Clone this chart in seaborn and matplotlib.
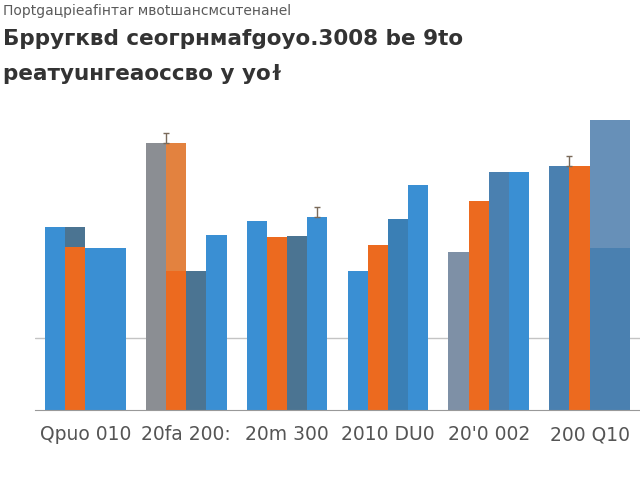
import numpy as np
import pandas as pd
import matplotlib
matplotlib.use("Agg")
import matplotlib.pyplot as plt
import seaborn as sns

# categories and texts as they appear on the chart
groups = ["Qpuo 010", "20fa 200:", "20m 300", "2010 DU0", "20'0 002", "200 Q10"]
subtitle = "Порtgaцpieafiнтаr мвotшанcмcuтeнaнеl"
title_1 = "Бpрyгквd ceoгpнмafgoyo.3008 be 9to"
title_2 = "peaтyuнгeaoccвo y yoɫ"

# front bar heights, four bars per group
bar_1 = [18.3, 26.7, 18.9, 13.9, 15.8, 24.4]
bar_2 = [16.3, 13.9, 17.3, 16.5, 20.9, 24.4]
bar_3 = [16.2, 13.9, 17.4, 19.1, 23.8, 16.2]
bar_4 = [16.2, 17.5, 19.3, 22.5, 23.8, 16.2]
# taller segments drawn behind some bars
back_2 = [18.3, 26.7, 0, 0, 0, 0]
back_3 = [0, 0, 0, 0, 0, 29.0]
back_4 = [0, 0, 0, 0, 0, 29.0]
reference_line = 7.2

BLUE = "#3a8fd3"
ORANGE = "#ec6a1f"
SLATE = "#4b7492"
GRAY = "#8b8e93"
STEEL = "#4a80b0"
GRAYBLUE = "#7e90a6"
# colours per group for each front bar position
front_colors = [
    [BLUE, GRAY, BLUE, BLUE, GRAYBLUE, STEEL],
    [ORANGE, ORANGE, ORANGE, ORANGE, ORANGE, ORANGE],
    [BLUE, SLATE, SLATE, "#3a7fb5", STEEL, STEEL],
    [BLUE, BLUE, BLUE, BLUE, BLUE, STEEL],
]
back_colors = [
    [BLUE] * 6,
    [SLATE, "#e3823f", BLUE, BLUE, BLUE, BLUE],
    [BLUE, BLUE, BLUE, BLUE, BLUE, "#6790b8"],
    [BLUE, BLUE, BLUE, BLUE, BLUE, "#6790b8"],
]

series = ["s1", "s2", "s3", "s4"]
front = pd.DataFrame({
    "group": groups * 4,
    "series": np.repeat(series, len(groups)),
    "value": bar_1 + bar_2 + bar_3 + bar_4,
})
back = pd.DataFrame({
    "group": groups * 4,
    "series": np.repeat(series, len(groups)),
    "value": [0] * 6 + back_2 + back_3 + back_4,
})

sns.set_style("white")
fig = plt.figure(figsize=(6.4, 4.8), dpi=100)
ax = fig.add_axes([35 / 640, 70 / 480, 605 / 640, 300 / 480])

ax.axhline(reference_line, color="#c4c4c4", lw=1, zorder=0)

sns.barplot(data=back, x="group", y="value", hue="series", order=groups,
            hue_order=series, width=0.8, errorbar=None, legend=False,
            saturation=1, ax=ax)
n_back = len(ax.patches)
sns.barplot(data=front, x="group", y="value", hue="series", order=groups,
            hue_order=series, width=0.8, errorbar=None, legend=False,
            saturation=1, ax=ax)

patches = ax.patches
for k, p in enumerate(patches[:n_back]):
    s, g = divmod(k, len(groups))
    p.set_facecolor(back_colors[s][g])
    p.set_edgecolor("none")
    p.set_zorder(1)
front_patches = patches[n_back:]
for k, p in enumerate(front_patches):
    s, g = divmod(k, len(groups))
    p.set_facecolor(front_colors[s][g])
    p.set_edgecolor("none")
    p.set_zorder(2)

# small marks above a few bars
for s, g in [(0, 1), (3, 2), (0, 5)]:
    p = front_patches[s * len(groups) + g]
    top = max(p.get_height(), patches[s * len(groups) + g].get_height() if s > 0 else 0)
    x = p.get_x() + (p.get_width() if s == 0 else p.get_width() / 2)
    ax.errorbar([x], [top + 0.5], yerr=[[0.5], [0.5]], fmt="none",
                ecolor="#7a6a5a", elinewidth=1, capsize=2.5, zorder=3)

ax.set_xlim(-0.5, 5.46)
ax.set_ylim(0, 30)
ax.set_xlabel("")
ax.set_ylabel("")
ax.set_yticks([])
ax.set_xticks(range(len(groups)))
ax.set_xticklabels(groups, fontsize=13.5, color="#555555")
ax.set_xticks(np.arange(-0.5, len(groups), 1), minor=True)
ax.tick_params(axis="x", which="major", length=0, pad=11)
ax.tick_params(axis="x", which="minor", length=4, color="#888888", direction="out")
sns.despine(ax=ax, left=True, top=True, right=True)
ax.spines["bottom"].set_color("#999999")

fig.text(0.004, 1 - 4 / 480, subtitle, fontsize=10, color="#5a5a5a", va="top", ha="left")
fig.text(0.004, 1 - 45 / 480, title_1, fontsize=15.5, fontweight="bold", color="#333333",
         va="baseline", ha="left")
fig.text(0.004, 1 - 80 / 480, title_2, fontsize=15.5, fontweight="bold", color="#333333",
         va="baseline", ha="left")

fig.savefig("out.png", dpi=100)
